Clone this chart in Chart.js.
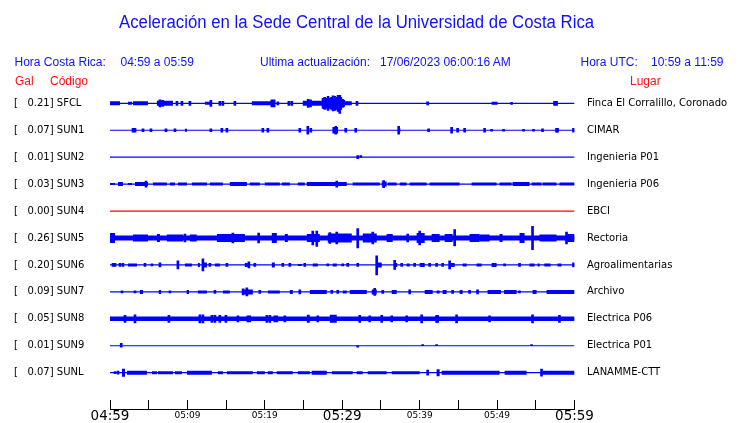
<!DOCTYPE html>
<html><head><meta charset="utf-8">
<script src="https://cdn.jsdelivr.net/npm/chart.js@4.4.1/dist/chart.umd.min.js"></script>
<style>
html,body{margin:0;padding:0;background:#fff;}
#wrap{position:relative;width:740px;height:423px;overflow:hidden;}
canvas{position:absolute;left:0;top:0;}
.t{position:absolute;white-space:pre;font-family:"Liberation Sans",Arial,sans-serif;font-size:12px;line-height:12px;color:#1010ff;}
.r{color:#ff1010;}
</style></head><body>
<div id="wrap">
<canvas id="c" width="740" height="423"></canvas>
<div class="t" style="left:119px;top:12.7px;font-size:18px;line-height:18px;transform:scaleX(0.931);transform-origin:0 0;">Aceleración en la Sede Central de la Universidad de Costa Rica</div>
<div class="t" style="left:14.5px;top:55.8px;">Hora Costa Rica:</div>
<div class="t" style="left:120.5px;top:55.8px;">04:59 a 05:59</div>
<div class="t" style="left:260px;top:55.8px;">Ultima actualización:</div>
<div class="t" style="left:380px;top:55.8px;">17/06/2023 06:00:16 AM</div>
<div class="t" style="left:580.5px;top:55.8px;">Hora UTC:</div>
<div class="t" style="left:651px;top:55.8px;">10:59 a 11:59</div>
<div class="t r" style="left:15px;top:74.8px;">Gal</div>
<div class="t r" style="left:50px;top:74.8px;">Código</div>
<div class="t r" style="left:630px;top:74.8px;">Lugar</div>
</div>
<script>
// ---------------- DATA ----------------
const stations = ['SFCL','SUN1','SUN2','SUN3','SUN4','SUN5','SUN6','SUN7','SUN8','SUN9','SUNL'];
const galPeak  = ['0.21','0.07','0.01','0.03','0.00','0.26','0.20','0.09','0.05','0.01','0.07'];
const places   = ['Finca El Corralillo, Coronado','CIMAR','Ingenieria P01','Ingenieria P06','EBCI','Rectoria','Agroalimentarias','Archivo','Electrica P06','Electrica P01','LANAMME-CTT'];
const traceColors = ['#0000ff','#0000ff','#0000ff','#0000ff','#ff0000','#0000ff','#0000ff','#0000ff','#0000ff','#0000ff','#0000ff'];

// x axis: minutes after 04:59
const xTickMinutes = [0,5,10,15,20,25,30,35,40,45,50,55,60];
const xTickLabels  = ['04:59','','05:09','','05:19','','05:29','','05:39','','05:49','','05:59'];
const xBigTicks    = [0,30,60];

// envelope bands: [startMin, endMin, halfAmplitude]
const bandsSFCL = [[0,1.29,2],[2.32,2.84,1.5],[2.97,4.90,2],[6.06,8.13,2.5],[12.26,13.16,1.5],[18.32,21.29,2],[24.90,27.48,2.5],[27.48,30.32,3.5],[30.32,31.23,2],[49.29,50.06,1.5]];
const bandsSUN1 = [[9.68,9.94,1.5],[37.2,37.5,2],[28.9,29.3,2]];
const bandsSUN2 = [];
const bandsSUN3 = [[0,0.65,1],[1.03,1.68,2],[2.32,2.84,1],[3.23,4.90,2],[5.55,7.35,1.5],[7.74,8.39,1.5],[8.77,9.94,1.5],[10.58,12.52,1.5],[12.90,14.58,1.5],[15.48,17.68,2],[18.06,19.35,1.5],[20.0,21.94,1.5],[22.19,23.23,1.5],[24.26,25.16,1.5],[25.42,30.58,2],[31.35,34.84,1.5],[35.10,35.74,2.5],[35.87,37.03,1.5],[37.42,38.32,1.5],[38.71,40.90,1.5],[41.29,45.16,1.5],[46.71,49.94,1.5],[50.32,51.87,1.5],[52.0,54.19,2],[54.45,55.74,1.5],[55.87,57.68,1.5],[58.06,60,1.5]];
const bandsSUN4 = [];
const bandsSUN5 = [[0,60,2.5],[0,0.65,5],[2.97,4.90,3.5],[6.06,6.45,4],[7.35,9.42,3.5],[10.32,11.2,3.5],[13.81,17.42,4],[20.9,21.55,5],[22.58,22.97,4],[25.42,27.10,4],[28.13,31.23,4.5],[32.65,34.45,4.5],[35.74,36.52,4],[39.61,40.65,5],[41.55,42.58,4],[43.23,44.26,4],[46.45,47.74,4],[47.74,49.03,3.5],[50.32,50.71,4],[52.90,53.55,5],[55.48,57.68,3.5],[59.1,60,4]];
const bandsSUN6 = [[2.32,3.48,1.5],[9.68,10.58,1.5],[11.35,11.61,2],[12.0,12.52,2.5],[13.55,14.19,1.5],[17.42,17.81,2],[20.90,21.29,2.5],[24.26,24.77,1],[26.19,26.84,1.5],[28.77,29.29,1.5],[34.5,35.1,2.5],[36.8,37.1,2],[38.32,38.71,1.5],[40.0,40.65,2],[44.0,44.52,2],[45.55,46.06,1.5],[47.35,48.0,1.5],[49.29,49.94,2],[54.19,54.84,1.5],[55.23,55.5,1.5],[56.1,56.9,1.5],[57.81,58.32,1.5]];
const bandsSUN7 = [[3.87,4.26,2],[6.3,6.6,2],[9.9,10.2,2],[11.35,12.52,1.5],[14.58,15.48,1.5],[17.03,18.45,2.5],[20.39,21.94,1.5],[23.23,23.61,2],[25.81,28.0,2],[30.06,30.58,1.5],[30.97,33.16,2],[33.81,34.45,2.5],[36.39,37.03,2],[40.65,41.68,2],[42.19,42.58,1.5],[42.97,43.48,2],[45.16,45.55,2],[48.77,50.5,2],[50.9,52.52,2],[54.58,55.10,2],[56.39,60,2]];
const bandsSUN8 = [[0,60,2.2],[25.42,25.81,4],[28.39,29.29,4]];
const bandsSUN9 = [];
const bandsSUNL = [[1.55,1.94,4],[2.19,4.77,2],[5.42,6.06,1.5],[6.19,8.13,1.5],[8.39,9.29,1.5],[9.94,13.16,2],[13.94,14.58,1.5],[15.10,18.45,1.5],[18.97,20.0,1.5],[20.39,21.03,1.5],[21.55,23.61,1.5],[24.26,25.81,1.5],[26.06,28.0,2],[28.65,31.35,1.5],[31.87,32.65,1.5],[33.29,35.74,1.5],[36.39,40.0,1.5],[42.19,42.58,3.5],[42.84,49.03,2],[49.03,50.32,2],[50.97,53.81,2],[55.87,60,2]];

// spikes: [minute, upAmplitude, downAmplitude(optional)]
const spikesSFCL = [[6.45,3.5],[6.8,3],[8.65,2],[9.29,2],[10.32,2],[13.03,3],[14.19,2],[14.58,2],[16.13,2],[20.9,3.5],[21.2,3.5],[21.68,1.5],[23.10,2],[23.48,2],[25.6,4],[25.9,3.5],[27.52,5],[27.74,6],[27.96,5],[28.17,7],[28.39,5],[28.61,6],[28.81,7.5],[29.03,7],[29.25,6],[29.46,8],[29.68,8,10],[29.81,6],[30.03,4],[30.19,3],[31.9,2],[41.03,1.5],[51.87,1],[57.42,2],[57.68,2]];
const spikesSUN1 = [[2.97,2],[3.23,2],[4.26,1.5],[5.29,1.5],[7.23,1.5],[8.39,1.5],[13.03,1.5],[14.45,2],[15.10,2],[19.74,2],[20.39,2],[24.52,2],[25.55,4],[25.94,2],[28.90,3],[29.16,4],[29.29,3],[30.45,2],[31.74,2],[37.29,4],[41.16,1.5],[44.13,3],[44.90,2],[45.81,2],[48.39,2],[49.29,1],[50.84,1],[53.42,1],[54.71,1],[55.87,1.5],[57.68,2],[57.81,2],[59.87,2]];
const spikesSUN2 = [[32.0,1.5],[32.4,1.5,0]];
const spikesSUN3 = [[4.65,3],[29.29,3],[35.35,3.5]];
const spikesSUN4 = [];
const spikesSUN5 = [[9.68,4],[15.87,5],[19.2,5],[26.19,7],[26.71,7,8.5],[28.4,5.5],[29.29,6],[32.0,9.3,10],[33.94,6],[38.45,4],[40.0,7],[44.52,8.3,8],[54.58,11.7],[58.97,6]];
const spikesSUN6 = [[0.39,1.5],[0.65,1.5],[1.29,1.5],[1.68,1.5],[4.52,1.5],[5.42,1],[6.45,2],[8.77,4],[12.0,6],[12.90,1.5],[15.10,1.5],[17.94,3],[18.71,1.5],[22.32,1.5],[23.23,1.5],[25.16,1.5],[28.13,1],[30.06,1],[30.71,1.5],[32.0,1.5],[34.45,9,10],[36.77,4.5],[37.68,1.5],[39.35,1.5],[41.29,1.5],[42.19,1.5],[42.97,1.5],[43.87,4],[50.97,1],[52.90,1.5],[59.87,2]];
const spikesSUN7 = [[1.55,1],[3.23,1],[7.74,1],[13.55,1.5],[17.2,3],[17.68,4],[19.35,1.5],[24.52,2],[28.65,1.5],[29.42,1.5],[34.19,3.5],[35.23,1.5],[38.71,2],[44.26,1.5],[46.45,1.5],[47.48,2],[52.90,1]];
const spikesSUN8 = [[1.94,3.5],[3.23,4],[7.61,3.5],[11.61,4],[12.0,4],[13.16,3.5],[13.55,3.5],[14.19,3.5],[14.97,3.5],[16.52,3],[17.81,3],[18.06,3],[20.26,3.5],[20.65,3.5],[21.29,3],[21.55,3],[22.58,3],[26.84,3],[32.26,3.5],[33.55,3],[35.10,3.5],[36.39,3],[38.32,3],[40.26,4],[42.19,3.5],[42.32,3.5],[44.77,4],[49.03,3],[54.58,4],[58.06,3.5]];
const spikesSUN9 = [[1.45,2.5,1.5],[32.0,0,1.5],[40.39,1.2,0],[42.19,1.2,0],[54.45,1.2,0]];
const spikesSUNL = [[0.65,1],[1.03,1.5],[41.03,2.5],[55.74,3.5]];

const allBands  = [bandsSFCL,bandsSUN1,bandsSUN2,bandsSUN3,bandsSUN4,bandsSUN5,bandsSUN6,bandsSUN7,bandsSUN8,bandsSUN9,bandsSUNL];
const allSpikes = [spikesSFCL,spikesSUN1,spikesSUN2,spikesSUN3,spikesSUN4,spikesSUN5,spikesSUN6,spikesSUN7,spikesSUN8,spikesSUN9,spikesSUNL];

// ---------------- LAYOUT ----------------
const W = 740, H = 423;
const PLOT_LEFT = 110, PLOT_RIGHT = 574.5, PLOT_TOP = 89, PLOT_BOTTOM = 409;
const ROW0_PX = 103.3, ROW_STEP_PX = 26.94;
const AMP_PER_ROW = ROW_STEP_PX; // amplitude units per trace row
const yMin = -(ROW0_PX - PLOT_TOP) / ROW_STEP_PX;
const yMax = yMin + (PLOT_BOTTOM - PLOT_TOP) / ROW_STEP_PX;
const pxPerAmp = ROW_STEP_PX / AMP_PER_ROW;

const datasets = [];
stations.forEach((name, i) => {
  const col = traceColors[i];
  datasets.push({type:'line', data:[{x:0,y:i},{x:60,y:i}], borderColor:col, borderWidth:1.2, pointRadius:0, fill:false, tension:0});
  const groups = {};
  allBands[i].forEach(([a,b,h]) => { (groups[h] = groups[h] || []).push({x:a,y:i},{x:b,y:i},{x:b,y:null}); });
  Object.keys(groups).forEach(h => {
    datasets.push({type:'line', data:groups[h], borderColor:col, borderWidth:2*h*pxPerAmp, borderCapStyle:'butt',
      pointRadius:0, spanGaps:false, fill:false, tension:0});
  });
  if (allSpikes[i].length) {
    datasets.push({type:'bar', data: allSpikes[i].map(s => ({x:s[0], y:[i - s[1]/AMP_PER_ROW, i + (s.length > 2 ? s[2] : s[1])/AMP_PER_ROW]})),
      backgroundColor:col, borderWidth:0, barThickness:2, grouped:false});
  }
});

const rowTicks = s => { s.ticks = stations.map((_, i) => ({value:i})); };
const noPad = s => { s.paddingTop = 0; s.paddingBottom = 0; s.paddingLeft = 0; s.paddingRight = 0; };

new Chart(document.getElementById('c'), {
  type:'line',
  data:{datasets},
  options:{
    responsive:false, animation:false, events:[],
    layout:{padding:{left:14, right:0, top:PLOT_TOP, bottom:0}},
    plugins:{legend:{display:false}, tooltip:{enabled:false}, title:{display:false}},
    scales:{
      x:{type:'linear', position:'bottom', min:0, max:60, offset:false,
        afterBuildTicks: s => { s.ticks = xTickMinutes.map(v => ({value:v})); },
        afterFit: s => { s.height = H - PLOT_BOTTOM; noPad(s); },
        grid:{display:true, offset:false, drawOnChartArea:false, drawTicks:true, tickLength:-9, color:'#000', lineWidth:1},
        border:{display:true, color:'#000', width:1},
        ticks:{autoSkip:false, maxRotation:0, minRotation:0, padding:8.6, color:'#000',
          callback:(v, idx) => xTickLabels[idx],
          font: ctx => (ctx.tick && xBigTicks.includes(ctx.tick.value))
            ? {family:'DejaVu Sans', size:13.5, lineHeight:1.2}
            : {family:'DejaVu Sans', size:9, lineHeight:1.6}}
      },
      y:{type:'linear', position:'left', min:yMin, max:yMax, reverse:true, offset:false,
        afterBuildTicks: rowTicks,
        afterFit: s => { s.width = PLOT_LEFT - 14; noPad(s); },
        grid:{display:false, drawTicks:false}, border:{display:false},
        ticks:{crossAlign:'far', padding:0, color:'#000', font:{family:'DejaVu Sans', size:10},
          callback:(v, idx) => '[   ' + galPeak[idx] + '] ' + stations[idx]}
      },
      y2:{type:'linear', position:'right', min:yMin, max:yMax, reverse:true, offset:false,
        afterBuildTicks: rowTicks,
        afterFit: s => { s.width = W - PLOT_RIGHT; noPad(s); },
        grid:{display:false, drawTicks:false}, border:{display:false},
        ticks:{crossAlign:'near', padding:12.5, color:'#000', font:{family:'DejaVu Sans', size:10},
          callback:(v, idx) => places[idx]}
      }
    }
  }
});
</script>
</body></html>
